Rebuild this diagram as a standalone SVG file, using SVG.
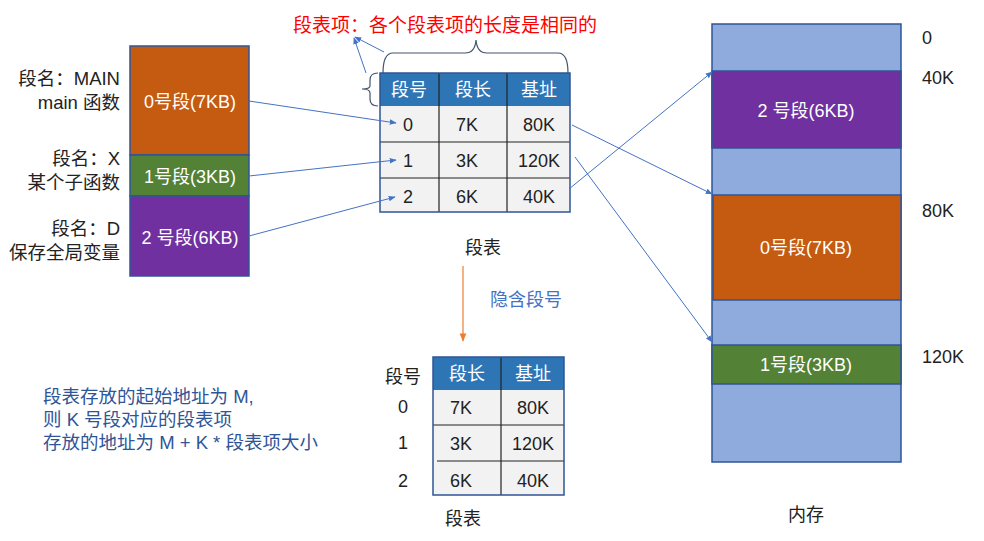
<svg xmlns="http://www.w3.org/2000/svg" width="984" height="541" viewBox="0 0 984 541">
<defs>
<style>
text{font-family:"Liberation Sans","Noto Sans CJK SC",sans-serif;font-size:18px;fill:#222}
.w{fill:#fff}
.c{text-anchor:middle}
.r{text-anchor:end}
.lbl{font-size:18.5px}
.blk{stroke:#2F5597;stroke-width:1.5}
.conn{stroke:#4472C4;stroke-width:1;fill:none}
.grid{stroke:#222;stroke-width:1.2}
.cell{fill:#F2F2F2}
.hdr{fill:#2E75B6}
.note{fill:#2F5597;font-size:18.5px}
</style>
<marker id="ah" viewBox="0 0 10 10" refX="9" refY="5" markerWidth="7" markerHeight="7" orient="auto"><path d="M0,1 L10,5 L0,9 z" fill="#4472C4"/></marker>
<marker id="aho" viewBox="0 0 10 10" refX="9" refY="5" markerWidth="7" markerHeight="7" orient="auto"><path d="M0,1 L10,5 L0,9 z" fill="#ED7D31"/></marker>
</defs>
<rect width="984" height="541" fill="#fff"/>

<g id="process">
<rect x="130" y="46" width="119" height="109" fill="#C55A11" class="blk"/>
<rect x="130" y="155" width="119" height="41" fill="#538135" class="blk"/>
<rect x="130" y="196" width="119" height="80" fill="#7030A0" class="blk"/>
<text x="190" y="108" class="w c">0号段(7KB)</text>
<text x="190" y="183" class="w c">1号段(3KB)</text>
<text x="190" y="244" class="w c">2 号段(6KB)</text>
<text x="120" y="85" class="r lbl">段名：MAIN</text>
<text x="120" y="109" class="r lbl">main 函数</text>
<text x="120" y="165" class="r lbl">段名：X</text>
<text x="120" y="189" class="r lbl">某个子函数</text>
<text x="120" y="235" class="r lbl">段名：D</text>
<text x="120" y="259" class="r lbl">保存全局变量</text>
</g>

<g id="note-red">
<text x="293" y="32" style="fill:#FF0000;font-size:19px">段表项：各个段表项的长度是相同的</text>
<path d="M383,73 Q383,53 393,53 L465,53 Q475,53 476,40 Q477,53 487,53 L558,53 Q568,53 568,73" fill="none" stroke="#44546A" stroke-width="1.2"/>
<path d="M378,73 Q370,73 370,80 L370,86 Q370,89 362,89 Q370,89 370,93 L370,99 Q370,106 378,106" fill="none" stroke="#44546A" stroke-width="1.2"/>
</g>

<g id="segtable">
<rect x="380" y="73" width="190" height="33" class="hdr"/>
<rect x="380" y="106" width="190" height="106" class="cell"/>
<line x1="380" y1="142" x2="570" y2="142" class="grid"/>
<line x1="380" y1="178" x2="570" y2="178" class="grid"/>
<line x1="439" y1="73" x2="439" y2="212" class="grid"/>
<line x1="507" y1="73" x2="507" y2="212" class="grid"/>
<rect x="380" y="73" width="190" height="139" fill="none" class="blk"/>
<text x="409" y="96" class="w c">段号</text>
<text x="473" y="96" class="w c">段长</text>
<text x="539" y="96" class="w c">基址</text>
<text x="408" y="131" class="c">0</text>
<text x="467" y="131" class="c">7K</text>
<text x="539" y="131" class="c">80K</text>
<text x="408" y="167" class="c">1</text>
<text x="467" y="167" class="c">3K</text>
<text x="539" y="167" class="c">120K</text>
<text x="408" y="203" class="c">2</text>
<text x="467" y="203" class="c">6K</text>
<text x="539" y="203" class="c">40K</text>
<text x="483" y="254" class="c">段表</text>
</g>

<g id="memory">
<rect x="712" y="24" width="189" height="438" fill="#8FAADC" class="blk"/>
<rect x="712" y="71" width="189" height="77" fill="#7030A0" class="blk"/>
<rect x="713" y="195" width="188" height="105" fill="#C55A11" class="blk"/>
<rect x="712" y="345" width="189" height="39" fill="#538135" class="blk"/>
<text x="806" y="117" class="w c">2 号段(6KB)</text>
<text x="806" y="254" class="w c">0号段(7KB)</text>
<text x="806" y="371" class="w c">1号段(3KB)</text>
<text x="922" y="44">0</text>
<text x="922" y="84">40K</text>
<text x="922" y="217">80K</text>
<text x="922" y="363">120K</text>
<text x="806" y="521" class="c">内存</text>
</g>

<g id="segtable2">
<rect x="433" y="357" width="131" height="33" class="hdr"/>
<rect x="433" y="390" width="131" height="105" class="cell"/>
<line x1="433" y1="425" x2="564" y2="425" class="grid"/>
<line x1="437" y1="461" x2="564" y2="461" class="grid"/>
<line x1="501" y1="357" x2="501" y2="495" class="grid"/>
<rect x="433" y="357" width="131" height="138" fill="none" class="blk"/>
<text x="467" y="380" class="w c">段长</text>
<text x="533" y="380" class="w c">基址</text>
<text x="461" y="414" class="c">7K</text>
<text x="533" y="414" class="c">80K</text>
<text x="461" y="450" class="c">3K</text>
<text x="533" y="450" class="c">120K</text>
<text x="461" y="487" class="c">6K</text>
<text x="533" y="487" class="c">40K</text>
<text x="403" y="383" class="c">段号</text>
<text x="403" y="413" class="c">0</text>
<text x="403" y="449" class="c">1</text>
<text x="403" y="487" class="c">2</text>
<text x="463" y="525" class="c">段表</text>
</g>

<g id="note-blue">
<text x="490" y="306" style="fill:#4472C4">隐含段号</text>
<text x="43" y="403" class="note">段表存放的起始地址为 M,</text>
<text x="43" y="426" class="note">则 K 号段对应的段表项</text>
<text x="43" y="449" class="note">存放的地址为 M + K * 段表项大小</text>
</g>

<g id="connectors">
<line x1="249" y1="101" x2="396" y2="123" class="conn" marker-end="url(#ah)"/>
<line x1="249" y1="176" x2="396" y2="160" class="conn" marker-end="url(#ah)"/>
<line x1="249" y1="236" x2="395" y2="197" class="conn" marker-end="url(#ah)"/>
<line x1="572" y1="125" x2="712" y2="194" class="conn" marker-end="url(#ah)"/>
<line x1="575" y1="157" x2="712" y2="342" class="conn" marker-end="url(#ah)"/>
<line x1="569" y1="189" x2="712" y2="72" class="conn" marker-end="url(#ah)"/>
<line x1="384" y1="52" x2="355" y2="37" class="conn" marker-end="url(#ah)"/>
<line x1="366" y1="73" x2="354" y2="38" class="conn" marker-end="url(#ah)"/>
<line x1="463" y1="266" x2="463" y2="341" stroke="#ED7D31" stroke-width="1.2" marker-end="url(#aho)"/>
</g>
</svg>
